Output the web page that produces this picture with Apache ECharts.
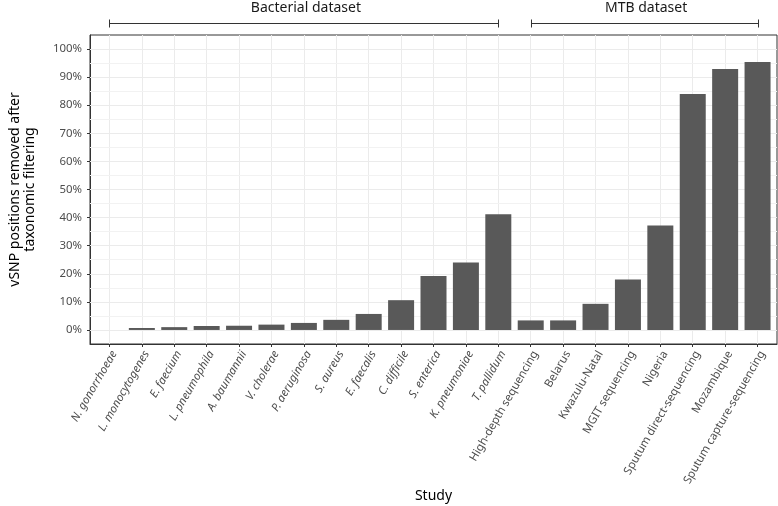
<!DOCTYPE html>
<html><head><meta charset="utf-8">
<script src="https://cdn.jsdelivr.net/npm/echarts@6/dist/echarts.min.js"></script>
<style>html,body{margin:0;padding:0;background:#fff}#c{width:778px;height:506px}</style>
</head><body><div id="c"></div>
<script>
const bacterialStudies = ['N. gonorrhoeae','L. monocytogenes','E. faecium','L. pneumophila','A. baumannii','V. cholerae','P. aeruginosa','S. aureus','E. faecalis','C. difficile','S. enterica','K. pneumoniae','T. pallidum'];
const mtbStudies = ['High-depth sequencing','Belarus','Kwazulu-Natal','MGIT sequencing','Nigeria','Sputum direct-sequencing','Mozambique','Sputum capture-sequencing'];
const bacterialValues = [0, 0.7, 1.0, 1.4, 1.5, 1.9, 2.5, 3.6, 5.7, 10.6, 19.2, 24.0, 41.2];
const mtbValues = [3.4, 3.4, 9.3, 18.0, 37.2, 84.0, 92.9, 95.4];
const yTicks = [0,10,20,30,40,50,60,70,80,90,100];
const groups = [
  {name:'Bacterial dataset', from:0, to:12},
  {name:'MTB dataset', from:13, to:20}
];

const categories = bacterialStudies.concat(mtbStudies);
const values = bacterialValues.concat(mtbValues);
const idx = categories.map((c,i)=>i);
const FONT = 'Noto Sans';
const TICK_FS = 11.4;
const chart = echarts.init(document.getElementById('c'), null, {renderer:'canvas'});
chart.setOption({
  animation:false,
  backgroundColor:'#fff',
  textStyle:{fontFamily:FONT},
  grid:[
    {left:90, top:35, width:687, height:309, show:true, borderColor:'#333', borderWidth:1, backgroundColor:'#fff', containLabel:false, outerBoundsMode:'none'},
    {left:90, top:15, width:687, height:16, containLabel:false, outerBoundsMode:'none'}
  ],
  xAxis:[
    {type:'value', gridIndex:0, min:-0.6, max:20.6, splitNumber:21,
     name:'Study', nameLocation:'middle', nameGap:145, nameMoveOverlap:false,
     nameTextStyle:{fontFamily:FONT, fontSize:14, color:'#000'},
     axisLine:{show:true, onZero:false, lineStyle:{color:'#333', width:1}},
     axisTick:{show:true, customValues:idx, length:3, lineStyle:{color:'#333'}},
     splitLine:{show:false},
     axisLabel:{customValues:idx, rotate:60, margin:5, interval:0, align:'right', verticalAlign:'top',
       formatter:function(v){const i=Math.round(v); const n=categories[i]; if(n===undefined) return ''; return (i<bacterialStudies.length?'{it|':'{n|')+n+'}';},
       rich:{
         it:{fontFamily:FONT, fontSize:TICK_FS, fontStyle:'italic', color:'#4d4d4d'},
         n:{fontFamily:FONT, fontSize:TICK_FS, color:'#4d4d4d'}
       }}
    },
    {type:'value', gridIndex:1, min:-0.6, max:20.6, show:false}
  ],
  yAxis:[
    {type:'value', gridIndex:0, min:-5, max:105, splitNumber:11,
     name:'vSNP positions removed after\ntaxonomic filtering', nameLocation:'middle', nameRotate:90, nameGap:52,
     nameTextStyle:{fontFamily:FONT, fontSize:14, color:'#000', lineHeight:15},
     axisLine:{show:true, onZero:false, lineStyle:{color:'#333', width:1}},
     axisTick:{show:true, customValues:yTicks, length:3, lineStyle:{color:'#333'}},
     axisLabel:{customValues:yTicks, margin:8, fontFamily:FONT, fontSize:TICK_FS, color:'#4d4d4d', formatter:function(v){return v+'%';}},
     splitLine:{show:false}
    },
    {type:'value', gridIndex:1, min:0, max:1, show:false}
  ],
  series:[
    {type:'bar', xAxisIndex:0, yAxisIndex:0, barWidth:26,
     itemStyle:{color:'#595959'},
     data: values.map((v,i)=>[i, v]), z:3,
     markLine:{silent:true, symbol:'none', z:1, label:{show:false},
       data: idx.map(i=>({xAxis:i, lineStyle:{color:'#ebebeb', width:1, type:'solid'}}))
         .concat(yTicks.map(t=>({yAxis:t, lineStyle:{color:'#ebebeb', width:1, type:'solid'}})))
         .concat(yTicks.slice(1).map(t=>({yAxis:t-5, lineStyle:{color:'#f2f2f2', width:1, type:'solid'}})))
     }},
    {type:'custom', xAxisIndex:1, yAxisIndex:1, clip:false,
     data: groups.map(g=>[g.from, g.to]),
     renderItem:function(params, api){
       const g = groups[params.dataIndex];
       const a = api.coord([api.value(0), 0.5]);
       const b = api.coord([api.value(1), 0.5]);
       const y = Math.round(a[1])+0.5;
       const ax = Math.round(a[0])+0.5, bx = Math.round(b[0])+0.5;
       const st = {stroke:'#333', lineWidth:1};
       return {type:'group', children:[
         {type:'line', shape:{x1:ax, y1:y, x2:bx, y2:y}, style:st},
         {type:'line', shape:{x1:ax, y1:y-4, x2:ax, y2:y+4}, style:st},
         {type:'line', shape:{x1:bx, y1:y-4, x2:bx, y2:y+4}, style:st},
         {type:'text', x:(a[0]+b[0])/2+2, y:y-15, style:{text:g.name, fontFamily:FONT, fontSize:14, fill:'#1a1a1a', align:'center', verticalAlign:'middle'}}
       ]};
     }}
  ]
});
</script></body></html>
